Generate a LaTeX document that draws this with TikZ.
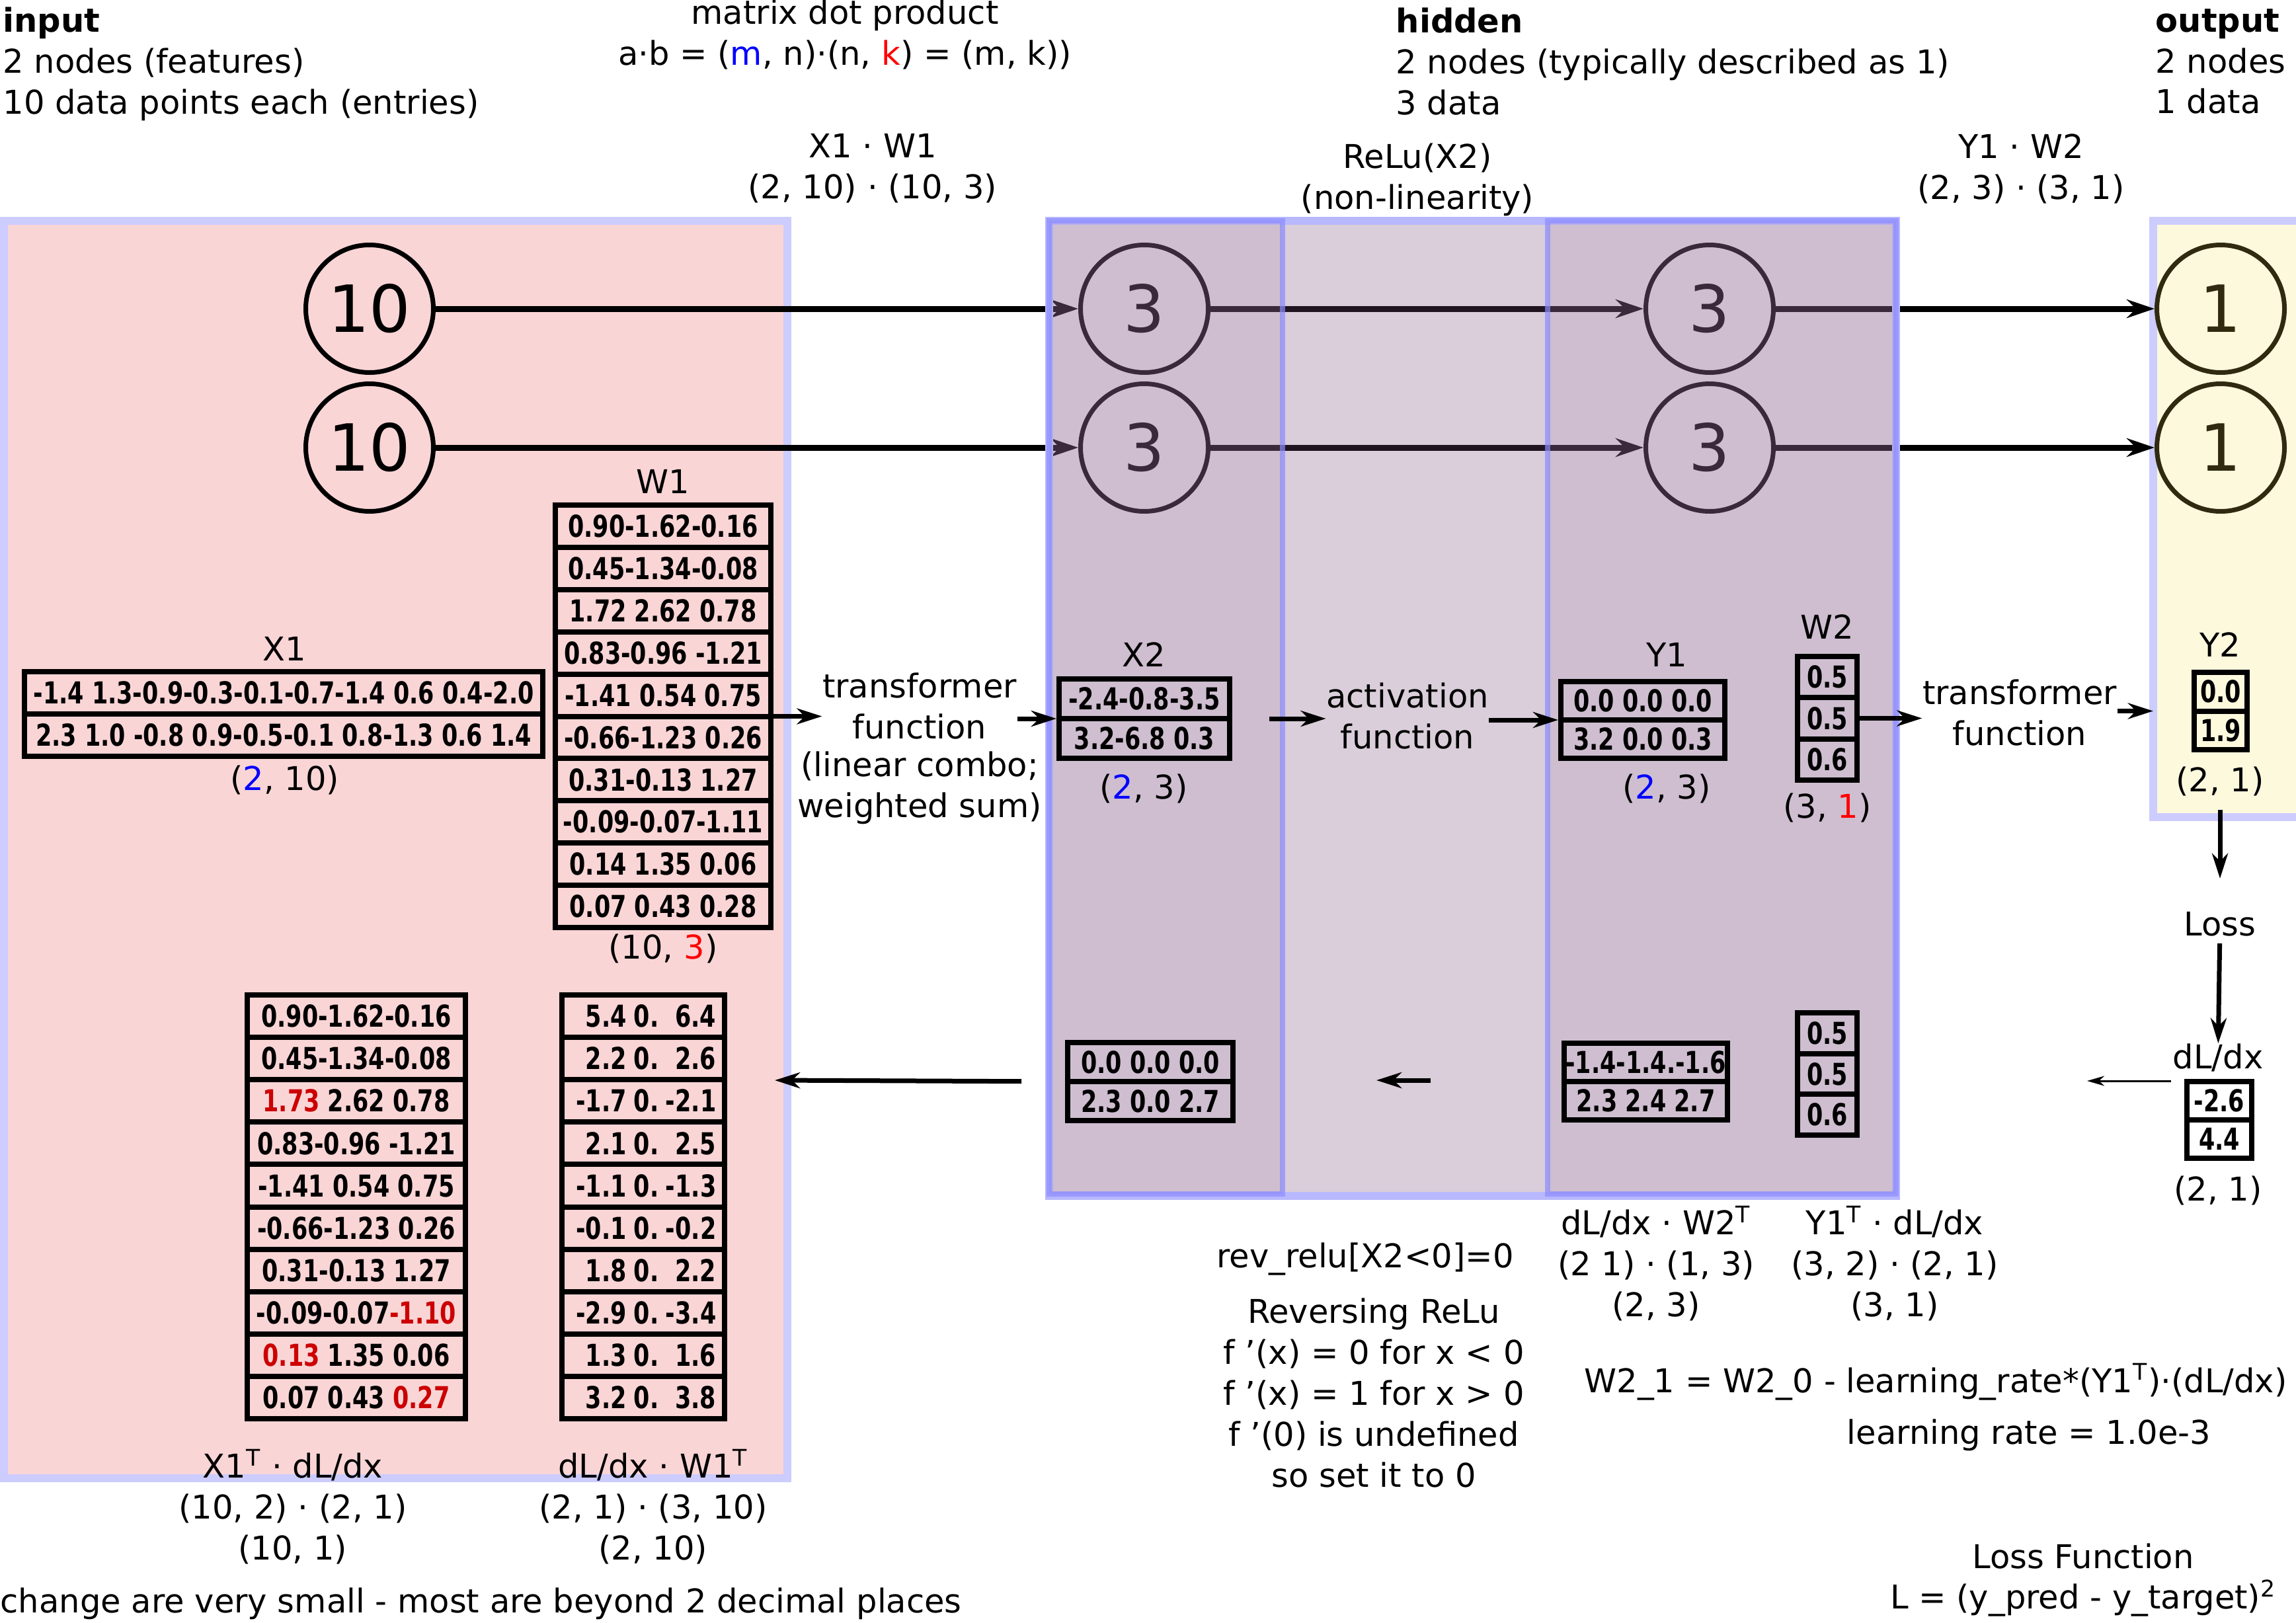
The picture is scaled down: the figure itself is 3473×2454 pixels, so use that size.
\documentclass[tikz,border=0pt]{standalone}
\usepackage{fontspec}
\setmainfont{DejaVu Sans}
\newfontfamily\matfont{DejaVu Sans Condensed}[FakeStretch=0.85]
\usetikzlibrary{arrows.meta, shapes.multipart}

\definecolor{inpink}{RGB}{250,213,214}
\definecolor{panelrim}{RGB}{204,204,255}
\definecolor{outyellow}{RGB}{253,249,221}
\definecolor{hidbase}{RGB}{116,76,116}
\definecolor{hidside}{RGB}{165,129,175}
\definecolor{hidrimlight}{RGB}{184,184,255}
\definecolor{hidrim}{RGB}{140,140,255}
\definecolor{outdark}{RGB}{48,42,16}
\definecolor{gradred}{RGB}{204,0,0}

\def\mrowh{5.4mm}
\newcommand{\mc}[1]{\rule[\dimexpr1.67mm-\mrowh/2\relax]{0pt}{\mrowh}#1}
\newcommand{\gwrow}[2]{\makebox[8.5mm][r]{#1}\hspace{1.1mm}0.\makebox[8.7mm][r]{#2}}
\newcommand{\bl}[1]{\textcolor{blue}{#1}}
\newcommand{\rd}[1]{\textcolor{red}{#1}}
\newcommand{\gr}[1]{\textcolor{gradred}{#1}}

\begin{document}
\begin{tikzpicture}[x=0.1mm, y=-0.1mm, font=\fontsize{14.1}{17.6}\selectfont]
\tikzset{
  panel/.style={line width=1.2mm, draw=panelrim},
  neuron/.style={circle, draw, line width=0.7mm, minimum size=19.3mm, inner sep=0pt, font=\fontsize{28}{30}\selectfont},
  mat/.style={rectangle split, rectangle split parts=#1, draw, line width=0.8mm, inner xsep=0pt, inner ysep=0pt, font={\fontsize{13}{15}\selectfont\matfont\bfseries}},
  rowh/.code={\def\mrowh{#1}},
  lbl/.style={align=center, inner sep=0pt},
  hdr/.style={align=left, anchor=west, inner sep=0pt},
  fwd/.style={-{Stealth[length=3.8mm, width=2.4mm, inset=1.2mm]}, line width=0.7mm},
  link/.style={-{Stealth[length=4.2mm, width=2.8mm, inset=1.4mm]}, line width=0.9mm},
  thinfwd/.style={-{Stealth[length=2.6mm, width=1.5mm, inset=0.8mm]}, line width=0.3mm}
}
\useasboundingbox (0,0) rectangle (3473,2454);

% panels
\draw[panel, fill=inpink] (6,334) rectangle (1191,2236);
\draw[panel, fill=outyellow] (3257,334) rectangle (3485,1236);

% neurons
\node[neuron] (in1) at (559,467) {10};
\node[neuron] (in2) at (559,677) {10};
\node[neuron] (h1a) at (1731,467) {3};
\node[neuron] (h1b) at (1731,677) {3};
\node[neuron] (h2a) at (2586,467) {3};
\node[neuron] (h2b) at (2586,677) {3};
\node[neuron, draw=outdark, text=outdark] (out1) at (3359,467) {1};
\node[neuron, draw=outdark, text=outdark] (out2) at (3359,677) {1};

\draw[link] (in1) -- (h1a);
\draw[link] (in2) -- (h1b);
\draw[link] (h1a) -- (h2a);
\draw[link] (h1b) -- (h2b);
\draw[link] (h2a) -- (out1);
\draw[link] (h2b) -- (out2);

% hidden layer tint
\draw[draw=hidrimlight, line width=1.2mm, fill=hidbase, fill opacity=0.275] (1587,334) rectangle (2868,1809);
\draw[draw=hidrim, draw opacity=0.7, line width=0.8mm, fill=hidside, fill opacity=0.2] (1587,334) rectangle (1940,1806);
\draw[draw=hidrim, draw opacity=0.7, line width=0.8mm, fill=hidside, fill opacity=0.2] (2341,334) rectangle (2868,1806);

% headers
\node[hdr] (intxt) at (4,97) {\textbf{input}\\2 nodes (features)\\10 data points each (entries)};
\node[hdr] (hidtxt) at (2111,93) {\textbf{hidden}\\2 nodes (typically described as 1)\\3 data};
\node[hdr] (outtxt) at (3260,93) {\textbf{output}\\2 nodes\\1 data};
\node[lbl] (dotrule) at (1278,52) {matrix dot product\\a·b = (\bl{m}, n)·(n, \rd{k}) = (m, k))};
\node[lbl] (mul1) at (1320,255) {X1 · W1\\(2, 10) · (10, 3)};
\node[lbl] (relu) at (2144,272) {ReLu(X2)\\(non-linearity)};
\node[lbl] (mul2) at (3057,255) {Y1 · W2\\(2, 3) · (3, 1)};

% forward matrices
\node[mat=2, rowh=5.6mm, minimum width=78.4mm] (x1) at (429,1080)
  {\mc{-1.4 1.3-0.9-0.3-0.1-0.7-1.4 0.6 0.4-2.0}\nodepart{two}\mc{2.3 1.0 -0.8 0.9-0.5-0.1 0.8-1.3 0.6 1.4}};
\node[lbl] (x1name) at (430,981) {X1};
\node[lbl] (x1dim) at (431,1180) {(\bl{2}, 10)};

\node[mat=10, rowh=5.59mm, minimum width=32.6mm] (w1) at (1003,1083.5)
  {\mc{0.90-1.62-0.16}\nodepart{two}\mc{0.45-1.34-0.08}\nodepart{three}\mc{1.72 2.62 0.78}%
   \nodepart{four}\mc{0.83-0.96 -1.21}\nodepart{five}\mc{-1.41 0.54 0.75}\nodepart{six}\mc{-0.66-1.23 0.26}%
   \nodepart{seven}\mc{0.31-0.13 1.27}\nodepart{eight}\mc{-0.09-0.07-1.11}\nodepart{nine}\mc{0.14 1.35 0.06}%
   \nodepart{ten}\mc{0.07 0.43 0.28}};
\node[lbl] (w1name) at (1003,728) {W1};
\node[lbl] (w1dim) at (1003,1435) {(10, \rd{3})};

\node[lbl] (trf1) at (1391,1068) {transformer\\function};
\node[lbl] (trf1note) at (1391,1192) {(linear combo;\\weighted sum)};

\node[mat=2, rowh=5.2mm, minimum width=25.8mm] (x2) at (1731,1087)
  {\mc{-2.4-0.8-3.5}\nodepart{two}\mc{3.2-6.8 0.3}};
\node[lbl] (x2name) at (1730,990) {X2};
\node[lbl] (x2dim) at (1730,1193) {(\bl{2}, 3)};

\node[lbl] (act) at (2129,1083) {activation\\function};

\node[mat=2, rowh=5.0mm, minimum width=24.8mm] (y1) at (2485,1089)
  {\mc{0.0 0.0 0.0}\nodepart{two}\mc{3.2 0.0 0.3}};
\node[lbl] (y1name) at (2521,990) {Y1};
\node[lbl] (y1dim) at (2521,1193) {(\bl{2}, 3)};

\node[mat=3, rowh=5.43mm, minimum width=9mm] (w2) at (2764,1086.5)
  {\mc{0.5}\nodepart{two}\mc{0.5}\nodepart{three}\mc{0.6}};
\node[lbl] (w2name) at (2764,948) {W2};
\node[lbl] (w2dim) at (2764,1222) {(3, \rd{1})};

\node[lbl] (trf2) at (3055,1078) {transformer\\function};

\node[mat=2, rowh=5.05mm, minimum width=8mm] (y2) at (3359,1075.5)
  {\mc{0.0}\nodepart{two}\mc{1.9}};
\node[lbl] (y2name) at (3358,975) {Y2};
\node[lbl] (y2dim) at (3358,1182) {(2, 1)};

\node[lbl] (loss) at (3358,1398) {Loss};
\node[lbl] (dlname) at (3355,1600) {dL/dx};
\node[mat=2, rowh=5.0mm, minimum width=9.8mm] (dldx) at (3357,1694)
  {\mc{-2.6}\nodepart{two}\mc{4.4}};
\node[lbl] (dldim) at (3355,1801) {(2, 1)};

% backward matrices
\node[mat=2, rowh=5.1mm, minimum width=25mm] (gx2) at (1740,1636)
  {\mc{0.0 0.0 0.0}\nodepart{two}\mc{2.3 0.0 2.7}};
\node[mat=2, rowh=5.0mm, minimum width=24.7mm] (gy1) at (2489.5,1636)
  {\mc{-1.4-1.4.-1.6}\nodepart{two}\mc{2.3 2.4 2.7}};
\node[mat=3, rowh=5.37mm, minimum width=9mm] (gw2) at (2764,1624.5)
  {\mc{0.5}\nodepart{two}\mc{0.5}\nodepart{three}\mc{0.6}};

\node[mat=10, rowh=5.61mm, minimum width=33mm] (nw1) at (539,1825.5)
  {\mc{0.90-1.62-0.16}\nodepart{two}\mc{0.45-1.34-0.08}\nodepart{three}\mc{\gr{1.73} 2.62 0.78}%
   \nodepart{four}\mc{0.83-0.96 -1.21}\nodepart{five}\mc{-1.41 0.54 0.75}\nodepart{six}\mc{-0.66-1.23 0.26}%
   \nodepart{seven}\mc{0.31-0.13 1.27}\nodepart{eight}\mc{-0.09-0.07\gr{-1.10}}\nodepart{nine}\mc{\gr{0.13} 1.35 0.06}%
   \nodepart{ten}\mc{0.07 0.43 \gr{0.27}}};
\node[mat=10, rowh=5.61mm, minimum width=24.6mm] (gw1) at (973,1825.5)
  {\mc{\gwrow{5.4}{6.4}}\nodepart{two}\mc{\gwrow{2.2}{2.6}}\nodepart{three}\mc{\gwrow{-1.7}{-2.1}}%
   \nodepart{four}\mc{\gwrow{2.1}{2.5}}\nodepart{five}\mc{\gwrow{-1.1}{-1.3}}\nodepart{six}\mc{\gwrow{-0.1}{-0.2}}%
   \nodepart{seven}\mc{\gwrow{1.8}{2.2}}\nodepart{eight}\mc{\gwrow{-2.9}{-3.4}}\nodepart{nine}\mc{\gwrow{1.3}{1.6}}%
   \nodepart{ten}\mc{\gwrow{3.2}{3.8}}};

% notes
\node[lbl] (nw1eq) at (443,2279) {X1\textsuperscript{T} · dL/dx\\(10, 2) · (2, 1)\\(10, 1)};
\node[lbl] (gw1eq) at (988,2279) {dL/dx · W1\textsuperscript{T}\\(2, 1) · (3, 10)\\(2, 10)};
\node[hdr] (note) at (0,2426) {change are very small - most are beyond 2 decimal places};
\node[lbl] (revrelu) at (2065,1904) {rev\_relu[X2<0]=0};
\node[lbl] (revtxt) at (2078,2107) {Reversing ReLu\\f '(x) = 0 for x < 0\\f '(x) = 1 for x > 0\\f '(0) is undefined\\so set it to 0};
\node[lbl] (gy1eq) at (2505,1911) {dL/dx · W2\textsuperscript{T}\\(2 1) · (1, 3)\\(2, 3)};
\node[lbl] (gw2eq) at (2866,1911) {Y1\textsuperscript{T} · dL/dx\\(3, 2) · (2, 1)\\(3, 1)};
\node[lbl] (upd) at (2928,2090) {W2\_1 = W2\_0 - learning\_rate*(Y1\textsuperscript{T})·(dL/dx)};
\node[lbl] (lr) at (3069,2171) {learning rate = 1.0e-3};
\node[lbl] (lossfn) at (3151,2390) {Loss Function\\L = (y\_pred - y\_target)\textsuperscript{2}};

% forward arrows
\draw[fwd] (w1.east) -- (w1.east -| trf1.west);
\draw[fwd] (trf1.east |- x2.west) -- (x2.west);
\draw[fwd, shorten <=5.6mm] (x2.east) -- (x2.east -| act.west);
\draw[fwd] (act.east |- y1.west) -- (y1.west);
\draw[fwd] (w2.east) -- (w2.east -| trf2.west);
\draw[fwd, shorten >=5.8mm] (trf2.east |- y2.west) -- (y2.west);
\draw[fwd, shorten <=2mm, shorten >=5mm] (y2dim) -- (loss);
\draw[fwd, shorten <=1mm] (loss) -- (dlname);

% backward arrows
\coordinate (bk1) at (3157,1635);
\coordinate (bk2a) at (2164,1634);
\coordinate (bk2b) at (2082,1634);
\coordinate (bk3) at (1172,1634);
\draw[thinfwd, shorten <=2mm] (dldx.west |- bk1) -- (bk1);
\draw[fwd] (bk2a) -- (bk2b);
\draw[fwd, shorten <=6.6mm] (gx2.west) -- (bk3);
\end{tikzpicture}
\end{document}
